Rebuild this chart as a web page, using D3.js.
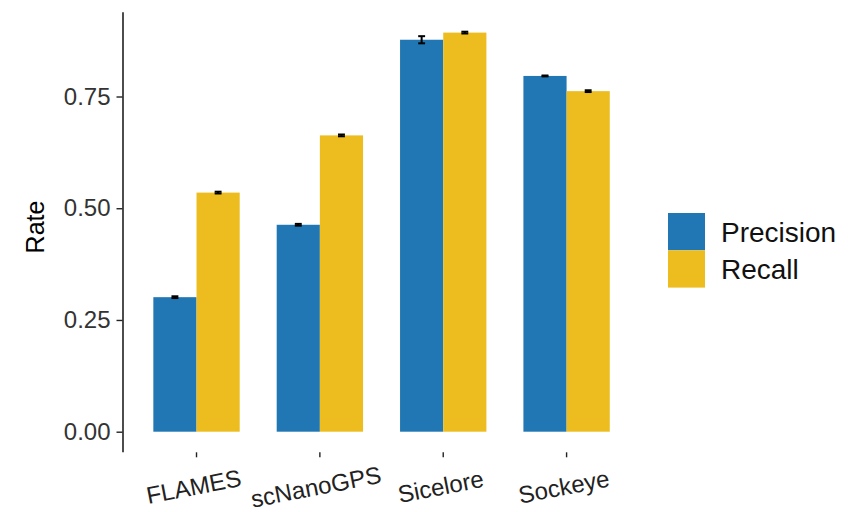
<!DOCTYPE html>
<html>
<head>
<meta charset="utf-8">
<script src="https://cdn.jsdelivr.net/npm/d3@7"></script>
<style>
  html, body { margin: 0; padding: 0; background: #fff; }
  svg { display: block; font-family: "Liberation Sans", Arial, Helvetica, sans-serif; }
</style>
</head>
<body>
<svg id="chart" width="848" height="512"></svg>
<script>
const categories = ["FLAMES", "scNanoGPS", "Sicelore", "Sockeye"];
const series = ["Precision", "Recall"];
const precisionValues = [0.301, 0.463, 0.877, 0.796];
const recallValues = [0.535, 0.663, 0.893, 0.762];
const precisionErrors = [0.002, 0.002, 0.008, 0.001];
const recallErrors = [0.002, 0.002, 0.002, 0.002];
const yTicks = [0, 0.25, 0.5, 0.75];
const colors = ["#2177B3", "#EDBD1F"];

const data = [];
categories.forEach((c, i) => {
  data.push({cat: c, series: "Precision", value: precisionValues[i], err: precisionErrors[i]});
  data.push({cat: c, series: "Recall", value: recallValues[i], err: recallErrors[i]});
});

const svg = d3.select("#chart");
const panel = {left: 122.5, right: 640.6, top: 11.7, bottom: 451.7};

const maxV = d3.max(data, d => d.value + d.err);
const ex = maxV * 0.05;
const y = d3.scaleLinear().domain([-ex, maxV + ex]).range([panel.bottom, panel.top]);

const x = d3.scaleBand().domain(categories).range([panel.left, panel.right])
  .paddingInner(0.3).paddingOuter(0.25);
const xs = d3.scaleBand().domain(series).range([0, x.bandwidth()]).padding(0);
const color = d3.scaleOrdinal().domain(series).range(colors);

// bars
svg.append("g").selectAll("rect").data(data).join("rect")
  .attr("x", d => x(d.cat) + xs(d.series))
  .attr("y", d => y(d.value))
  .attr("width", xs.bandwidth())
  .attr("height", d => y(0) - y(d.value))
  .attr("fill", d => color(d.series));

// error bars
const capW = xs.bandwidth() * 0.16;
const eg = svg.append("g").attr("stroke", "#000").attr("stroke-width", 2);
data.forEach(d => {
  const cx = x(d.cat) + xs(d.series) + xs.bandwidth() / 2;
  eg.append("line").attr("x1", cx).attr("x2", cx)
    .attr("y1", y(d.value - d.err)).attr("y2", y(d.value + d.err));
  eg.append("line").attr("x1", cx - capW / 2).attr("x2", cx + capW / 2)
    .attr("y1", y(d.value - d.err)).attr("y2", y(d.value - d.err));
  eg.append("line").attr("x1", cx - capW / 2).attr("x2", cx + capW / 2)
    .attr("y1", y(d.value + d.err)).attr("y2", y(d.value + d.err));
});

// y axis
const yAxis = d3.axisLeft(y).tickValues(yTicks).tickFormat(d3.format(".2f"))
  .tickSize(6).tickSizeOuter(0).tickPadding(6);
const gy = svg.append("g").attr("transform", `translate(${panel.left},0)`).call(yAxis);
gy.select(".domain").attr("stroke", "#000").attr("stroke-width", 1.4);
gy.selectAll(".tick line").attr("stroke", "#222").attr("stroke-width", 1.4);
gy.selectAll(".tick text").attr("font-size", 24).attr("fill", "#333")
  .attr("font-family", "'Liberation Sans', Arial, sans-serif");

// x axis (ticks only)
const xAxis = d3.axisBottom(x).tickSize(5).tickSizeOuter(0).tickFormat("");
const gx = svg.append("g").attr("transform", `translate(0,${panel.bottom + 0.6})`).call(xAxis);
gx.select(".domain").remove();
gx.selectAll(".tick line").attr("stroke", "#222").attr("stroke-width", 1.4);

// x labels rotated
const lg = svg.append("g");
categories.forEach(c => {
  const cx = x(c) + x.bandwidth() / 2;
  const g = lg.append("g").attr("transform", `translate(${cx},486) rotate(-11)`);
  const t = g.append("text").text(c)
    .attr("font-size", 24).attr("fill", "#222")
    .attr("text-anchor", "middle").attr("dominant-baseline", "central");
  const len = t.node().getComputedTextLength();
  t.attr("x", -0.03 * len);
});

// y title
svg.append("text").text("Rate")
  .attr("transform", `translate(35,227) rotate(-90)`)
  .attr("text-anchor", "middle").attr("dominant-baseline", "central")
  .attr("font-size", 25).attr("fill", "#000");

// legend
const leg = svg.append("g").attr("transform", "translate(668,213)");
series.forEach((s, i) => {
  leg.append("rect").attr("x", 0).attr("y", i * 37.3).attr("width", 37).attr("height", 37.3)
    .attr("fill", color(s));
  leg.append("text").text(s).attr("x", 53).attr("y", i * 37.3 + 19.5)
    .attr("dominant-baseline", "central").attr("font-size", 28).attr("fill", "#111");
});
</script>
</body>
</html>
